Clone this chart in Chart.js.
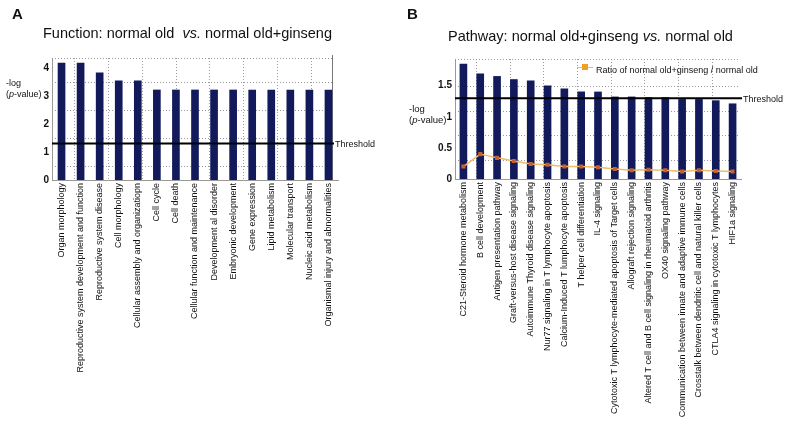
<!DOCTYPE html>
<html>
<head>
<meta charset="utf-8">
<script src="https://cdn.jsdelivr.net/npm/chart.js@4.4.1/dist/chart.umd.min.js"></script>
<style>
  body { margin: 0; background: #fff; font-family: "Liberation Sans", Arial, sans-serif; }
  #wrap { position: relative; width: 786px; height: 425px; overflow: hidden; }
  canvas { position: absolute; top: 0; }
  .txt { position: absolute; color: #111; white-space: nowrap; }
  .letter { font-weight: bold; font-size: 15px; }
  .title { font-size: 14.5px; }
  .ylab { font-size: 9.5px; line-height: 11px; }
  .leg { font-size: 9px; }
  .legbox { position: absolute; width: 6px; height: 6px; background: #f0a020; }
  .legline { position: absolute; width: 16px; height: 1px; background: #f0b860; }
</style>
</head>
<body>
<div id="wrap">
  <canvas id="chartA" width="400" height="425" style="left:0"></canvas>
  <canvas id="chartB" width="393" height="425" style="left:393px"></canvas>

  <div class="txt letter" style="left:12px; top:5px;">A</div>
  <div class="txt title" style="left:43px; top:25px;">Function: normal old&nbsp; <i>vs.</i> normal old+ginseng</div>
  <div class="txt ylab" style="left:6px; top:78px; font-size:9px;">-log<br>(<i>p</i>-value)</div>

  <div class="txt letter" style="left:407px; top:5px;">B</div>
  <div class="txt title" style="left:448px; top:28px;">Pathway: normal old+ginseng <i>vs.</i> normal old</div>
  <div class="txt ylab" style="left:409px; top:103px;">-log<br>(<i>p</i>-value)</div>

  <div class="legline" style="left:577px; top:67px;"></div>
  <div class="legbox" style="left:582px; top:64px;"></div>
  <div class="txt leg" style="left:596px; top:65px;">Ratio of normal old+ginseng / normal old</div>
</div>

<script>
var fnLabels = ['Organ morphology', 'Reproductive system development and function', 'Reproductive system disease',
  'Cell morphology', 'Cellular assembly and organizatiopn', 'Cell cycle', 'Cell death',
  'Cellular function and maintenance', 'Development al disorder', 'Embryonic development',
  'Gene expression', 'Lipid metabolism', 'Molecular transport', 'Nucleic acid metabolism',
  'Organismal injury and abnormalities'];
var fnValues = [4.17, 4.17, 3.82, 3.54, 3.54, 3.21, 3.21, 3.21, 3.21, 3.21, 3.21, 3.21, 3.21, 3.21, 3.21];

var pwLabels = ['C21-Steroid hormone metabolism', 'B cell development', 'Antigen presentation pathway',
  'Graft-versus-host disease signaling', 'Autoimmune Thyroid disease signaling',
  'Nur77 signaling in T lymphocyte apoptosis', 'Calcium-Induced T lumphocyte apoptosis',
  'T helper cell differentiation', 'IL-4 signaling',
  'Cytotoxic T lymphocyte-mediated apoptosis of Target cells', 'Allograft rejection signaling',
  'Altered T cell and B cell signaling in rheumatoid arthritis', 'OX40 signaling pathway',
  'Communication between innate and adaptive immune cells',
  'Crosstalk between dendritic cell and natural killer cells',
  'CTLA4 signaling in cytotoxic T lymphocytes', 'HIF1a signaling'];
var pwValues = [1.85, 1.69, 1.65, 1.60, 1.58, 1.50, 1.45, 1.40, 1.40, 1.32, 1.32, 1.31, 1.31, 1.28, 1.28, 1.26, 1.21];
var pwRatio = [0.20, 0.40, 0.34, 0.29, 0.24, 0.23, 0.20, 0.20, 0.19, 0.16, 0.14, 0.15, 0.14, 0.12, 0.14, 0.13, 0.12];

var fnTicks = [0, 1, 2, 3, 4];
var pwTicks = [0, 0.5, 1, 1.5];
var thresholdValue = 1.3;

var barColour = '#121a5c';
var fontFamily = '"Liberation Sans", Arial, sans-serif';

// dotted grid, frame and threshold line
var decor = {
  id: 'decor',
  beforeDatasetsDraw(chart, args, opts) {
    const ctx = chart.ctx, area = chart.chartArea;
    const x = chart.scales.x, y = chart.scales.y;
    const right = area.right - (opts.inset || 0);
    ctx.save();
    ctx.strokeStyle = '#9a9a9a';
    ctx.lineWidth = 1;
    ctx.setLineDash([1, 2]);
    (opts.yGrid || []).forEach(v => {
      const py = Math.round(y.getPixelForValue(v)) + 0.5;
      ctx.beginPath(); ctx.moveTo(area.left, py); ctx.lineTo(right, py); ctx.stroke();
    });
    (opts.xGrid || []).forEach(v => {
      const px = Math.round(x.getPixelForValue(v)) + 0.5;
      ctx.beginPath(); ctx.moveTo(px, area.top); ctx.lineTo(px, area.bottom); ctx.stroke();
    });
    ctx.setLineDash([]);
    if (opts.rightBorder) {
      ctx.strokeStyle = '#777';
      const px = Math.round(right) + 0.5;
      ctx.beginPath(); ctx.moveTo(px, area.top - 3); ctx.lineTo(px, area.bottom); ctx.stroke();
    }
    ctx.restore();
  },
  afterDatasetsDraw(chart, args, opts) {
    const ctx = chart.ctx, area = chart.chartArea;
    const right = area.right - (opts.inset || 0);
    const py = chart.scales.y.getPixelForValue(opts.threshold);
    ctx.save();
    ctx.strokeStyle = '#000';
    ctx.lineWidth = 2;
    ctx.beginPath(); ctx.moveTo(area.left, py); ctx.lineTo(right + 2, py); ctx.stroke();
    ctx.fillStyle = '#111';
    ctx.font = '9px ' + fontFamily;
    ctx.textBaseline = 'middle';
    ctx.fillText('Threshold', right + 3, py + 1);
    ctx.restore();
  }
};

function xAxis(height) {
  return {
    grid: { display: false, drawTicks: false },
    border: { color: '#999' },
    ticks: {
      minRotation: 90, maxRotation: 90, autoSkip: false, padding: 3,
      color: '#111', font: { size: 9, family: fontFamily }
    },
    afterFit: scale => { scale.height = height; }
  };
}

function yAxis(width, max, tickValues) {
  return {
    min: 0, max: max,
    grid: { display: false, drawTicks: false },
    border: { color: '#999' },
    afterBuildTicks: scale => { scale.ticks = tickValues.map(v => ({ value: v })); },
    ticks: {
      padding: 3, color: '#111',
      callback: v => String(v),
      font: { size: 10, weight: 'bold', family: fontFamily }
    },
    afterFit: scale => { scale.width = width; }
  };
}

const chartA = new Chart(document.getElementById('chartA').getContext('2d'), {
  type: 'bar',
  data: {
    labels: fnLabels,
    datasets: [{ data: fnValues, backgroundColor: barColour, barThickness: 7 }]
  },
  options: {
    responsive: false,
    animation: false,
    layout: { padding: { top: 58, right: 62, left: 0, bottom: 0 } },
    scales: { x: xAxis(245), y: yAxis(52, 4.35, fnTicks) },
    plugins: {
      legend: { display: false },
      tooltip: { enabled: false },
      decor: {
        threshold: thresholdValue,
        inset: 6,
        yGrid: [0.5, 1.5, 2.5, 3.5, 4.35],
        xGrid: [0.64, 2.42, 4.2, 5.98, 7.76, 9.54, 11.32, 13.1],
        rightBorder: true
      }
    }
  },
  plugins: [decor]
});

const chartB = new Chart(document.getElementById('chartB').getContext('2d'), {
  type: 'bar',
  data: {
    labels: pwLabels,
    datasets: [{
      type: 'line',
      label: 'Ratio of normal old+ginseng / normal old',
      data: pwRatio,
      borderColor: '#f2bb6a',
      borderWidth: 1.5,
      pointStyle: 'rect',
      pointRadius: 1.8,
      pointBackgroundColor: '#c8602e',
      pointBorderColor: '#c8602e',
      order: 0
    }, {
      data: pwValues, backgroundColor: barColour, barThickness: 7, order: 1
    }]
  },
  options: {
    responsive: false,
    animation: false,
    layout: { padding: { top: 59, right: 45, left: 0, bottom: 0 } },
    scales: { x: xAxis(246), y: yAxis(62, 1.93, pwTicks) },
    plugins: {
      legend: { display: false },
      tooltip: { enabled: false },
      decor: {
        threshold: thresholdValue,
        inset: 1,
        yGrid: [0.3, 0.7, 1.1, 1.5, 1.93],
        xGrid: [0.75, 2.75, 4.75, 6.75, 8.75, 10.75, 12.75, 14.75],
        rightBorder: false
      }
    }
  },
  plugins: [decor]
});
</script>
</body>
</html>
